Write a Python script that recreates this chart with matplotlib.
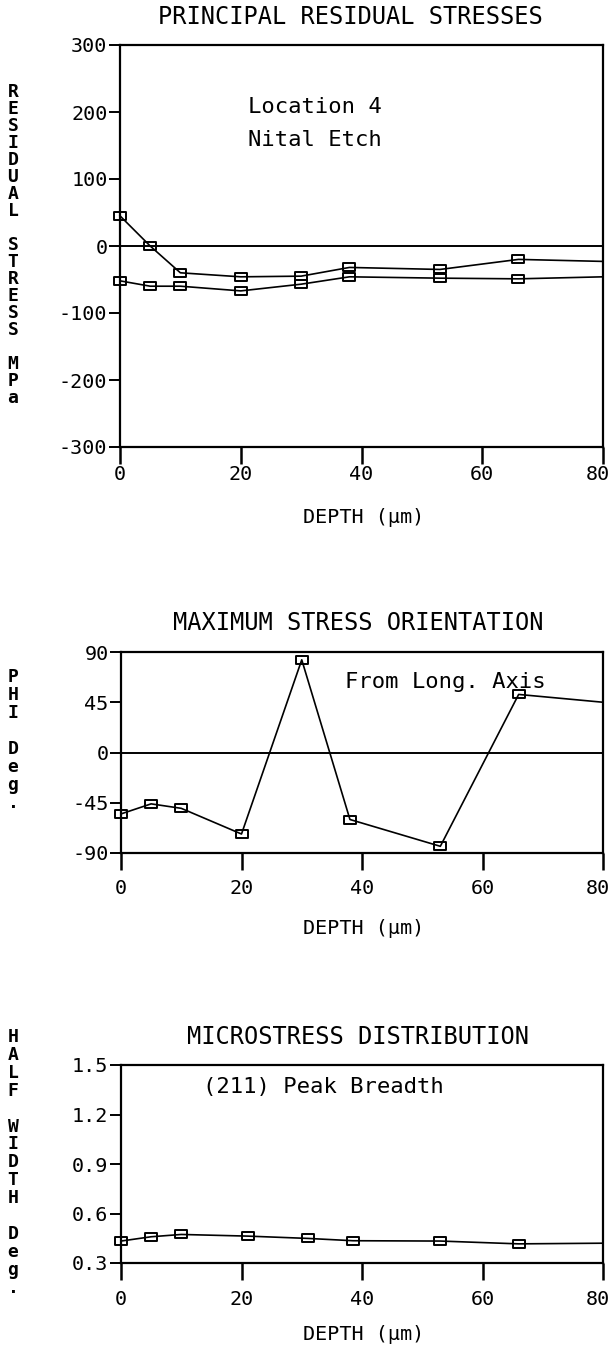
import matplotlib
matplotlib.use("Agg")
import matplotlib.pyplot as plt
from matplotlib.path import Path
from matplotlib.transforms import offset_copy

# ---------------- data ----------------
depth = [0, 5, 10, 20, 30, 38, 53, 66, 80]
stress_a = [45, 0, -40, -46, -45, -32, -35, -20, -23]
stress_b = [-52, -60, -60, -67, -57, -46, -48, -49, -46]

phi_depth = [0, 5, 10, 20, 30, 38, 53, 66, 80]
phi = [-55, -46, -50, -73, 83, -60, -84, 52, 45]

hw_depth = [0, 5, 10, 21, 31, 38.5, 53, 66, 80]
half_width = [0.433, 0.459, 0.473, 0.463, 0.449, 0.435, 0.433, 0.416, 0.42]

x_ticks = [0, 20, 40, 60, 80]
stress_ticks = [300, 200, 100, 0, -100, -200, -300]
phi_ticks = [90, 45, 0, -45, -90]
hw_ticks = [1.5, 1.2, 0.9, 0.6, 0.3]
hw_tick_labels = ["1.5", "1.2", "0.9", "0.6", "0.3"]

FONT = "DejaVu Sans Mono"
TICK_FS = 14.5
W, H = 610, 1345
fig = plt.figure(figsize=(W / 100, H / 100), dpi=100)

box = Path([(-1.3, -1), (1.3, -1), (1.3, 1), (-1.3, 1), (-1.3, -1)],
           [Path.MOVETO, Path.LINETO, Path.LINETO, Path.LINETO, Path.CLOSEPOLY])


def make_axes(left, right, top, bottom):
    ax = fig.add_axes([left / W, 1 - bottom / H, (right - left) / W, (bottom - top) / H])
    for s in ax.spines.values():
        s.set_linewidth(1.6)
    ax.tick_params(axis="y", direction="out", length=8, width=1.4, pad=1)
    ax.tick_params(axis="x", direction="out", length=12, width=1.8)
    return ax


def style_ticks(ax):
    for lab in ax.get_xticklabels() + ax.get_yticklabels():
        lab.set_family(FONT)
        lab.set_fontsize(TICK_FS)
    # keep the rightmost x label inside the figure, like the reference
    last = ax.get_xticklabels()[-1]
    last.set_transform(offset_copy(last.get_transform(), fig=fig, x=-5, y=0,
                                   units="dots"))


def stacked(x, y_top, text, pitch=17):
    for i, ch in enumerate(text):
        if ch != " ":
            fig.text(x / W, 1 - (y_top + i * pitch) / H, ch, family=FONT,
                     fontsize=13, fontweight="bold", ha="center", va="center")


def plot_series(ax, xs, ys):
    ax.plot(xs, ys, color="black", lw=1.2, marker=box, markersize=8,
            fillstyle="none", mew=1.4, markevery=list(range(len(xs) - 1)),
            clip_on=False, zorder=3)


TITLE_FS = 17
NOTE_FS = 16
XLAB_FS = 14.5

# ---------------- chart 1 ----------------
ax1 = make_axes(120, 603, 45, 447)
ax1.set_xlim(0, 80)
ax1.set_ylim(-300, 300)
ax1.axhline(0, color="black", lw=1.4)
plot_series(ax1, depth, stress_a)
plot_series(ax1, depth, stress_b)
ax1.set_xticks(x_ticks)
ax1.set_yticks(stress_ticks)
ax1.set_yticklabels([str(t) for t in stress_ticks])
ax1.tick_params(axis="x", pad=1)
style_ticks(ax1)
ax1.text(0.265, 0.845, "Location 4", transform=ax1.transAxes, family=FONT,
         fontsize=NOTE_FS, va="center")
ax1.text(0.265, 0.763, "Nital Etch", transform=ax1.transAxes, family=FONT,
         fontsize=NOTE_FS, va="center")
fig.text(350 / W, 1 - 17 / H, "PRINCIPAL RESIDUAL STRESSES", family=FONT,
         fontsize=TITLE_FS, ha="center", va="center")
fig.text(364 / W, 1 - 517 / H, "DEPTH (\u00b5m)", family=FONT,
         fontsize=XLAB_FS, ha="center", va="center")
stacked(13, 92, "RESIDUAL STRESS MPa")

# ---------------- chart 2 ----------------
ax2 = make_axes(121, 603, 652, 853)
ax2.set_xlim(0, 80)
ax2.set_ylim(-90, 90)
ax2.axhline(0, color="black", lw=1.4)
plot_series(ax2, phi_depth, phi)
ax2.set_xticks(x_ticks)
ax2.set_yticks(phi_ticks)
ax2.set_yticklabels([str(t) for t in phi_ticks])
ax2.tick_params(axis="x", pad=7)
style_ticks(ax2)
ax2.text(0.465, 0.85, "From Long. Axis", transform=ax2.transAxes, family=FONT,
         fontsize=NOTE_FS, va="center")
fig.text(358 / W, 1 - 623 / H, "MAXIMUM STRESS ORIENTATION", family=FONT,
         fontsize=TITLE_FS, ha="center", va="center")
fig.text(364 / W, 1 - 928 / H, "DEPTH (\u00b5m)", family=FONT,
         fontsize=XLAB_FS, ha="center", va="center")
stacked(13, 677, "PHI Deg.", pitch=18)

# ---------------- chart 3 ----------------
ax3 = make_axes(121, 603, 1065, 1263)
ax3.set_xlim(0, 80)
ax3.set_ylim(0.3, 1.5)
plot_series(ax3, hw_depth, half_width)
ax3.set_xticks(x_ticks)
ax3.set_yticks(hw_ticks)
ax3.set_yticklabels(hw_tick_labels)
ax3.tick_params(axis="x", pad=7.5)
style_ticks(ax3)
ax3.text(0.17, 0.89, "(211) Peak Breadth", transform=ax3.transAxes,
         family=FONT, fontsize=NOTE_FS, va="center")
fig.text(358 / W, 1 - 1037 / H, "MICROSTRESS DISTRIBUTION", family=FONT,
         fontsize=TITLE_FS, ha="center", va="center")
fig.text(364 / W, 1 - 1335 / H, "DEPTH (\u00b5m)", family=FONT,
         fontsize=XLAB_FS, ha="center", va="center")
stacked(13, 1037, "HALF WIDTH Deg.", pitch=17.9)

fig.savefig("out.png", dpi=100, facecolor="white")
